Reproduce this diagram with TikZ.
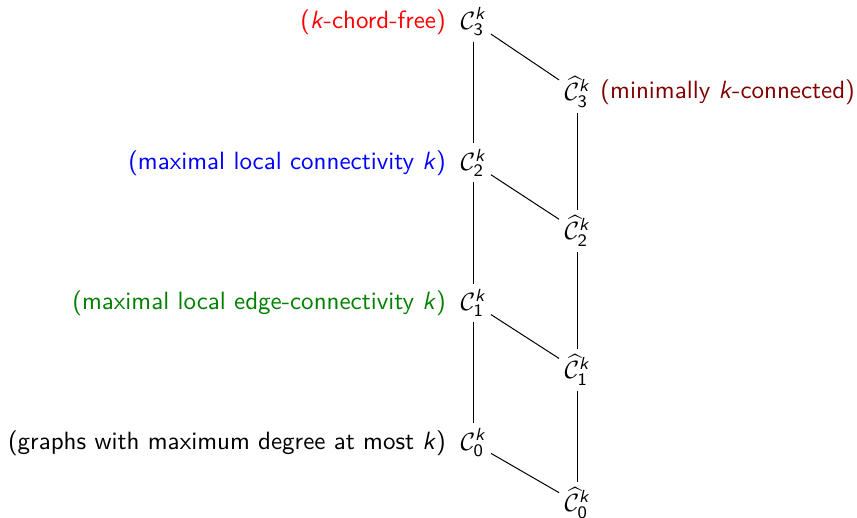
\documentclass[tikz,border=0pt]{standalone}
\usepackage{amsmath,amssymb}
\usepackage{xcolor}
\usepackage{tikz}
\usetikzlibrary{positioning}

\renewcommand{\familydefault}{\sfdefault}
\newcommand{\kk}{\text{\itshape k}}
\newcommand{\Cl}[1]{$\mathcal{C}^{\kk}_{\text{#1}}$}
\newcommand{\Ch}[1]{$\widehat{\mathcal{C}}^{\kk}_{\text{#1}}$}

\begin{document}
\begin{tikzpicture}[
  x=0.4pt, y=-0.4pt,
  every node/.style={inner sep=2pt},
  lab/.style={node distance=1.5pt}
]
\useasboundingbox (0,0) rectangle (857,518);

% the two columns
\node (C3) at (473,22) {\Cl{3}};
\node (C2) at (473,163) {\Cl{2}};
\node (C1) at (473,303) {\Cl{1}};
\node (C0) at (473,443) {\Cl{0}};
\node (H3) at (577,92) {\Ch{3}};
\node (H2) at (577,231) {\Ch{2}};
\node (H1) at (577,370) {\Ch{1}};
\node (H0) at (577,503) {\Ch{0}};

% labels
\node[lab, left=of C3, text=red] (L3) {(\textit{k}-chord-free)};
\node[lab, left=of C2, text=blue] (L2) {(maximal local connectivity \textit{k})};
\node[lab, left=of C1, text=green!50!black] (L1) {(maximal local edge-connectivity \textit{k})};
\node[lab, left=of C0] (L0) {(graphs with maximum degree at most \textit{k})};
\node[right=0pt of H3, text=red!50!black] (R3) {(minimally \textit{k}-connected)};

\draw (C3) -- (C2) -- (C1) -- (C0);
\draw (H3) -- (H2) -- (H1) -- (H0);
\draw (C3) -- (H3);
\draw (C2) -- (H2);
\draw (C1) -- (H1);
\draw (C0) -- (H0);

\end{tikzpicture}
\end{document}
